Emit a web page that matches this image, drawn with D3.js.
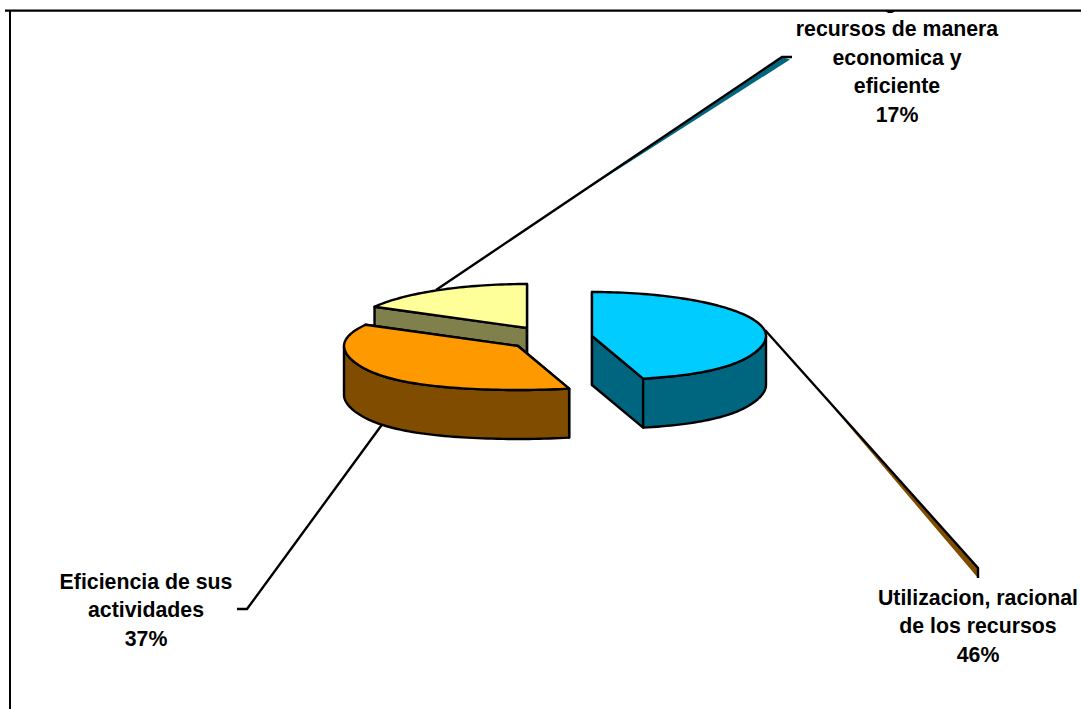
<!DOCTYPE html>
<html>
<head>
<meta charset="utf-8">
<script src="https://cdn.jsdelivr.net/npm/d3@7"></script>
<style>
  html, body { margin: 0; padding: 0; background: #fff; overflow: hidden; }
  text { font-family: "Liberation Sans", Arial, sans-serif; font-weight: bold; font-size: 21.3px; fill: #000; }
</style>
</head>
<body>
<svg width="1081" height="709"></svg>
<script>
const categories = ['Utilizacion, racional de los recursos', 'Eficiencia de sus actividades', 'Se asignan los recursos de manera economica y eficiente'];
const values = [46, 37, 17];
const percentLabels = ['46%', '37%', '17%'];
const labelLines = [
  ['Utilizacion, racional', 'de los recursos'],
  ['Eficiencia de sus', 'actividades'],
  ['Se asignan los', 'recursos de manera', 'economica y', 'eficiente']
];
const topColors = ['#00ccff', '#ff9900', '#ffff99'];
const sideColors = ['#006680', '#804d00', '#80804d'];

// where each exploded slice sits on the page
const centers = [[592, 336], [518, 346], [527, 328]];
const labelPos = [[978, 605], [146, 589], [897, 8]];
const rx = 174, ry = 44, depth = 49;

const svg = d3.select('svg');

svg.append('defs').append('clipPath').attr('id', 'plot')
  .append('rect').attr('x', 0).attr('y', 11).attr('width', 1081).attr('height', 698);

const pie = d3.pie().sort(null).value(d => d)(values);

// tilted circle, the front is a bit wider because of the perspective
function project(c, a, lift) {
  const cos = Math.cos(a), sin = Math.sin(a);
  const front = Math.max(0, -cos);
  return [c[0] + rx * sin * (1 + 0.2 * front * front * front), c[1] - ry * cos + (lift || 0)];
}
const line = d3.line();
function rim(c, a0, a1, lift) {
  const n = Math.max(2, Math.ceil((a1 - a0) * 40));
  return d3.range(n + 1).map(i => project(c, a0 + (a1 - a0) * i / n, lift));
}

// leader lines go first, the pie hides their inner ends
const leaders = [
  { shadow: [[820, 392], [978, 568], [978, 578]], color: sideColors[1], pts: [[765, 330], [978, 568], [978, 578]] },
  { pts: [[400, 400], [247, 609], [237, 609]] },
  { shadow: [[545, 216], [782, 57], [790, 59.5]], color: sideColors[0], pts: [[436, 290], [782, 57], [792, 57]] }
];
leaders.forEach(l => {
  if (l.shadow) svg.append('path').attr('d', line(l.shadow) + 'Z').attr('fill', l.color).attr('stroke', 'none');
  svg.append('path').attr('d', line(l.pts)).attr('fill', 'none').attr('stroke', '#000').attr('stroke-width', 2.4);
});

// back slices first
const order = [2, 1, 0];
const slices = svg.selectAll('g.slice').data(order).enter().append('g').attr('class', 'slice');
slices.each(function (i) {
  const g = d3.select(this), c = centers[i], p = pie[i];
  const a0 = p.startAngle, a1 = p.endAngle;
  const style = (sel, fill) => sel.attr('fill', fill).attr('stroke', '#000').attr('stroke-width', 2.4).attr('stroke-linejoin', 'round');

  [a0, a1].forEach(a => {
    const e = project(c, a);
    const wall = [c, e, [e[0], e[1] + depth], [c[0], c[1] + depth]];
    style(g.append('path').attr('d', line(wall) + 'Z'), sideColors[i]);
  });
  // only the part of the rim that faces us
  const f0 = Math.max(a0, Math.PI / 2), f1 = Math.min(a1, Math.PI * 1.5);
  if (f1 > f0) {
    const wall = rim(c, f0, f1).concat(rim(c, f0, f1, depth).reverse());
    style(g.append('path').attr('d', line(wall) + 'Z'), sideColors[i]);
  }
  style(g.append('path').attr('d', line([c].concat(rim(c, a0, a1))) + 'Z'), topColors[i]);
});

// frame
svg.append('path').attr('d', 'M5,10.6H1081').attr('stroke', '#000').attr('stroke-width', 2.2);
svg.append('path').attr('d', 'M10,10V709').attr('stroke', '#000').attr('stroke-width', 2);

// labels, the top one runs off the frame
const labels = svg.append('g').attr('clip-path', 'url(#plot)');
labelLines.forEach((lines, i) => {
  const t = labels.append('text').attr('text-anchor', 'middle');
  lines.concat([percentLabels[i]]).forEach((s, k) => {
    t.append('tspan').attr('x', labelPos[i][0]).attr('y', labelPos[i][1] + k * 28.4).text(s);
  });
});
</script>
</body>
</html>
